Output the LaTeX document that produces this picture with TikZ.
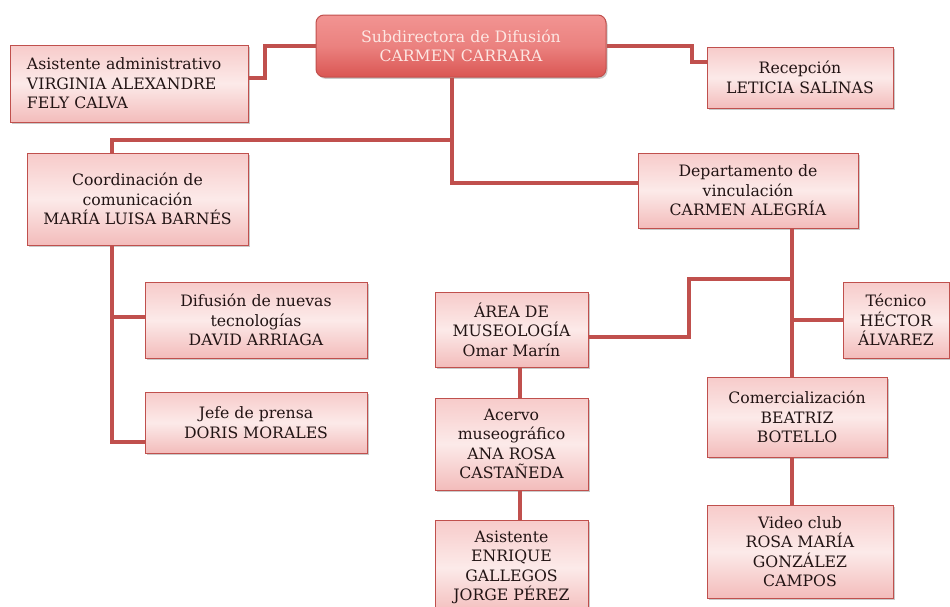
\documentclass[tikz,border=0pt]{standalone}
\usepackage{fontspec}
\setmainfont{DejaVu Serif}
\usetikzlibrary{shadows}
\definecolor{bordred}{HTML}{C0504D}
\definecolor{connred}{HTML}{C0504D}
\definecolor{pinktop}{HTML}{F7CBCA}
\definecolor{pinkmid}{HTML}{FCEAE9}
\definecolor{pinkbot}{HTML}{F3BCBB}
\definecolor{textdark}{HTML}{221414}
\definecolor{headtop}{HTML}{F29492}
\definecolor{headbot}{HTML}{DA5653}
\definecolor{headtext}{HTML}{FDE6E2}
\begin{document}
\begin{tikzpicture}[x=1pt,y=-1pt,
  box/.style={draw=bordred, line width=1pt, top color=pinktop, bottom color=pinkbot, middle color=pinkmid,
    align=center, inner sep=0pt, text=textdark, font=\fontsize{15.7}{19.5}\selectfont,
    drop shadow={shadow xshift=1.5pt, shadow yshift=-1.8pt, opacity=0.35, fill=black!60}},
  headbox/.style={box, rounded corners=8pt, draw=bordred, top color=headtop, bottom color=headbot, middle color=headtop!70!headbot, text=headtext},
  conn/.style={draw=connred, line width=3.2pt}]
\useasboundingbox (0,0) rectangle (950,606);

\node[headbox, minimum width=290pt, minimum height=62pt] (top) at (461,46) {Subdirectora de Difusión\\CARMEN CARRARA};
\node[box, minimum width=238pt, minimum height=77pt, align=left, text width=204pt, inner xsep=17pt] (asis) at (129,83.5) {Asistente administrativo\\VIRGINIA ALEXANDRE\\FELY CALVA};
\node[box, minimum width=186pt, minimum height=61pt] (recep) at (800,77.5) {Recepción\\LETICIA SALINAS};
\node[box, minimum width=221pt, minimum height=92pt] (coord) at (137.5,199) {Coordinación de\\comunicación\\MARÍA LUISA BARNÉS};
\node[box, minimum width=220pt, minimum height=75pt] (depto) at (748,190.5) {Departamento de\\vinculación\\CARMEN ALEGRÍA};
\node[box, minimum width=222pt, minimum height=76pt] (difus) at (256,320) {Difusión de nuevas\\tecnologías\\DAVID ARRIAGA};
\node[box, minimum width=222pt, minimum height=61pt] (jefe) at (256,422.5) {Jefe de prensa\\DORIS MORALES};
\node[box, minimum width=153pt, minimum height=75pt] (area) at (511.5,329.5) {ÁREA DE\\MUSEOLOGÍA\\Omar Marín};
\node[box, minimum width=106pt, minimum height=76pt] (tec) at (896,320) {Técnico\\HÉCTOR\\ÁLVAREZ};
\node[box, minimum width=153pt, minimum height=92pt] (acervo) at (511.5,444) {Acervo\\museográfico\\ANA ROSA\\CASTAÑEDA};
\node[box, minimum width=153pt, minimum height=95pt] (asist) at (511.5,567.5) {Asistente\\ENRIQUE\\GALLEGOS\\JORGE PÉREZ};
\node[box, minimum width=180pt, minimum height=80pt] (comerc) at (797,417) {Comercialización\\BEATRIZ\\BOTELLO};
\node[box, minimum width=186pt, minimum height=93pt] (video) at (800,551.5) {Video club\\ROSA MARÍA\\GONZÁLEZ\\CAMPOS};

% connectors
\draw[conn] (top.west) -| (265,78) -- (asis.east |- 0,78);
\draw[conn] (top.east) -| (692,62) -- (recep.west |- 0,62);
\draw[conn] (top.south -| 452,0) |- (depto.west |- 0,183);
\draw[conn] (top.south -| 452,0) |- (112,140) -- (coord.north -| 112,0);
\draw[conn] (coord.south -| 112,0) |- (difus.west |- 0,317);
\draw[conn] (coord.south -| 112,0) |- (jefe.west |- 0,442);
\draw[conn] (depto.south -| 792,0) -- (comerc.north -| 792,0);
\draw[conn] (792,320) -- (tec.west |- 0,320);
\draw[conn] (792,279) -| (689,337) -- (area.east |- 0,337);
\draw[conn] (area.south -| 520,0) -- (acervo.north -| 520,0);
\draw[conn] (acervo.south -| 520,0) -- (asist.north -| 520,0);
\draw[conn] (comerc.south -| 792,0) -- (video.north -| 792,0);
\end{tikzpicture}
\end{document}
